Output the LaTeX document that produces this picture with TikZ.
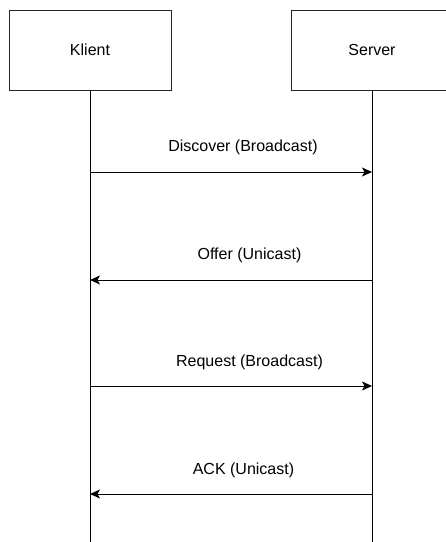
\documentclass[tikz,border=0pt]{standalone}
\usepackage{fontspec}
\setmainfont{Liberation Sans}
\usetikzlibrary{arrows.meta}
\begin{document}
\begin{tikzpicture}[x=1pt,y=-1pt,
  actor/.style={draw=black!85, line width=1pt, minimum width=162pt, minimum height=80pt, inner sep=0pt, font=\fontsize{16}{19}\selectfont},
  life/.style={draw=black, line width=1pt},
  msg/.style={draw=black, line width=1pt, -{Stealth[length=10pt,width=9pt,inset=2.5pt]}},
  lbl/.style={anchor=base, inner sep=0pt, font=\fontsize{16}{19}\selectfont}]
\useasboundingbox (0,0) rectangle (446,542);
\clip (0,0) rectangle (446,542);
\node[actor] (k) at (90,50) {Klient};
\node[actor] (s) at (372,50) {Server};
\coordinate (kend) at (90,545);
\coordinate (send) at (372,545);
\draw[life] (k.south) -- (kend);
\draw[life] (s.south) -- (send);
\coordinate (k1) at (90,172); \coordinate (s1) at (372,172);
\coordinate (k2) at (90,280); \coordinate (s2) at (372,280);
\coordinate (k3) at (90,386); \coordinate (s3) at (372,386);
\coordinate (k4) at (90,494); \coordinate (s4) at (372,494);
\draw[msg] (k1) -- (s1);
\draw[msg] (s2) -- (k2);
\draw[msg] (k3) -- (s3);
\draw[msg] (s4) -- (k4);
\node[lbl] (l1) at (243,151) {Discover (Broadcast)};
\node[lbl] (l2) at (249.5,259) {Offer (Unicast)};
\node[lbl] (l3) at (249.5,366) {Request (Broadcast)};
\node[lbl] (l4) at (243.5,474) {ACK (Unicast)};
\end{tikzpicture}
\end{document}
